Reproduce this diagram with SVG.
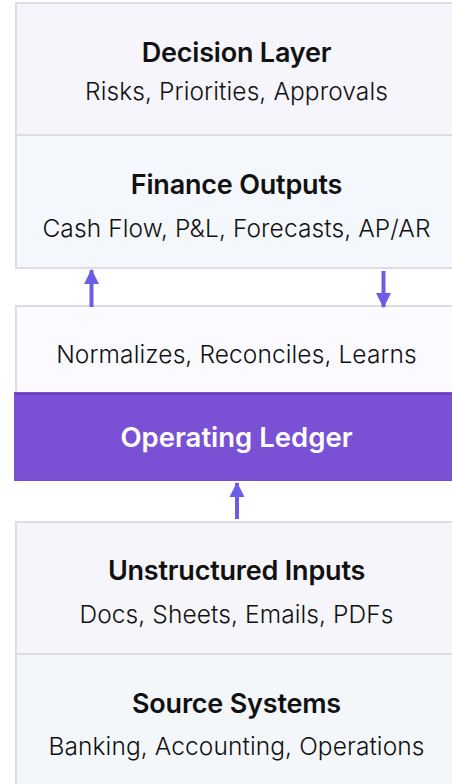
<svg xmlns="http://www.w3.org/2000/svg" width="452" height="784" viewBox="0 0 452 784">
  <defs>
    <style>
      .box { stroke: #dcdce1; stroke-width: 2; }
      .title { font-family: Inter, "Liberation Sans", sans-serif; font-weight: 600; font-size: 27px; fill: #111111; text-anchor: middle; letter-spacing: -0.2px; }
      .sub { font-family: Inter, "Liberation Sans", sans-serif; font-weight: 300; font-size: 24.5px; fill: #111111; text-anchor: middle; letter-spacing: 0.1px; }
      .ledger { font-family: Inter, "Liberation Sans", sans-serif; font-weight: 600; font-size: 27.5px; fill: #ffffff; text-anchor: middle; }
      .flow { stroke: #6b5de6; stroke-width: 4; fill: none; }
    </style>
    <marker id="head" markerUnits="userSpaceOnUse" markerWidth="16" markerHeight="16" viewBox="0 0 16 16" refX="14" refY="8" orient="auto">
      <path d="M0,0.5 L15,8 L0,15.5 Z" fill="#6b5de6"/>
    </marker>
  </defs>

  <rect width="452" height="784" fill="#ffffff"/>

  <!-- upper stack -->
  <g id="decision-layer">
    <rect class="box" x="16" y="3" width="444" height="132" fill="#f5f5fb"/>
    <text class="title" x="236.5" y="62">Decision Layer</text>
    <text class="sub" x="236.5" y="100">Risks, Priorities, Approvals</text>
  </g>

  <g id="finance-outputs">
    <rect class="box" x="16" y="135" width="444" height="133" fill="#f4f7fb"/>
    <text class="title" x="236.5" y="194">Finance Outputs</text>
    <text class="sub" x="236.5" y="237">Cash Flow, P&amp;L, Forecasts, AP/AR</text>
  </g>

  <!-- ledger core -->
  <g id="processing">
    <rect class="box" x="16" y="306" width="444" height="88" fill="#fafaff"/>
    <text class="sub" x="236.5" y="363">Normalizes, Reconciles, Learns</text>
  </g>

  <g id="operating-ledger">
    <rect x="14" y="392" width="446" height="89" fill="#7a50d4"/>
    <rect x="14" y="393" width="446" height="2" fill="#6a43c2"/>
    <text class="ledger" x="236.5" y="447">Operating Ledger</text>
  </g>

  <!-- lower stack -->
  <g id="unstructured-inputs">
    <rect class="box" x="16" y="522" width="444" height="132" fill="#f5f5fa"/>
    <text class="title" x="236.5" y="580">Unstructured Inputs</text>
    <text class="sub" x="236.5" y="623">Docs, Sheets, Emails, PDFs</text>
  </g>

  <g id="source-systems">
    <rect class="box" x="16" y="654" width="444" height="140" fill="#f4f7fa"/>
    <text class="title" x="236.5" y="713">Source Systems</text>
    <text class="sub" x="236.5" y="755">Banking, Accounting, Operations</text>
  </g>

  <!-- connectors -->
  <g id="connectors">
    <line class="flow" x1="91.5" y1="307" x2="91.5" y2="270" marker-end="url(#head)"/>
    <line class="flow" x1="383.5" y1="271" x2="383.5" y2="307" marker-end="url(#head)"/>
    <line class="flow" x1="237" y1="519" x2="237" y2="483" marker-end="url(#head)"/>
  </g>
</svg>
